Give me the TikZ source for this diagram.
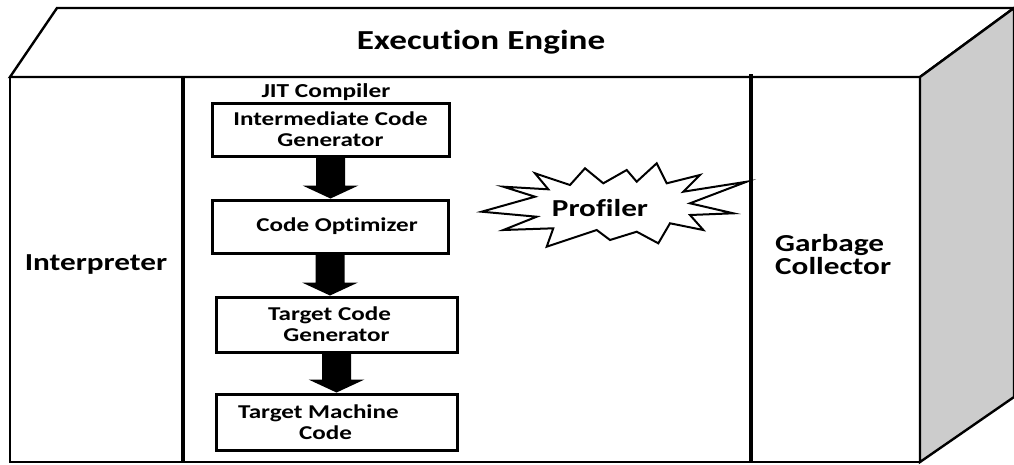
\documentclass[tikz,border=0pt]{standalone}
\usepackage{fontspec}
\setmainfont{Carlito}[FakeStretch=1.28, Ligatures=NoCommon]
\usetikzlibrary{calc}
\definecolor{sideface}{HTML}{CCCCCC}
\tikzset{
  edgeline/.style={line width=2.4pt, line join=miter},
  divider/.style={line width=3.6pt},
  stagebox/.style={draw, line width=3pt, rectangle, inner sep=0pt, align=center,
    font=\fontsize{19.6}{21}\selectfont\bfseries},
  titlelabel/.style={font=\fontsize{27.5}{30}\selectfont\bfseries, inner sep=0pt},
  biglabel/.style={font=\fontsize{24.4}{21}\selectfont\bfseries, inner sep=0pt},
  midlabel/.style={font=\fontsize{19.8}{20}\selectfont\bfseries, inner sep=0pt},
  burst/.style={draw, line width=2pt, fill=white, line join=miter},
}
% thick block arrow from the bottom of one node to the top of the next
\newcommand{\blockarrow}[2]{%
  \fill let \p1=(#1.south), \p2=(#2.north) in
    (\x1-14.5pt,\y1) -- (\x1+14.5pt,\y1) -- (\x1+14.5pt,\y2+13pt) --
    (\x1+28pt,\y2+13pt) -- (\x1,\y2) -- (\x1-28pt,\y2+13pt) --
    (\x1-14.5pt,\y2+13pt) -- cycle;}
\begin{document}
\begin{tikzpicture}[x=1pt, y=-1pt]
  \useasboundingbox (0,0) rectangle (1014,464);
  % box corners
  \coordinate (fl) at (10,77);
  \coordinate (fr) at (920,77);
  \coordinate (bl) at (10,462);
  \coordinate (br) at (920,462);
  \coordinate (tl) at (57,8);
  \coordinate (tr) at (1014,8);
  \coordinate (sr) at (1014,397);
  % top face and shaded side face
  \draw[edgeline, fill=white] (fl) -- (tl) -- (tr) -- (fr) -- cycle;
  \draw[edgeline, fill=sideface] (fr) -- (tr) -- (sr) -- (br) -- cycle;
  % front face
  \draw[edgeline] (fl) rectangle (br);
  % column dividers
  \coordinate (d1t) at (183,77);
  \coordinate (d1b) at (183,462);
  \coordinate (d2t) at (751,74);
  \coordinate (d2b) at (751,462);
  \draw[divider] (d1t) -- (d1b);
  \draw[divider] (d2t) -- (d2b);

  \node[titlelabel, anchor=base] (engine) at (481,49) {Execution Engine};
  \node[biglabel, anchor=base] (interp) at (96,270) {Interpreter};
  \node[biglabel, anchor=base west, align=left] (gc) at (775,274) {Garbage\\Collector};
  \node[midlabel, anchor=base] (jit) at (326,97) {JIT Compiler};

  % compiler stages
  \node[stagebox, minimum width=237pt, minimum height=53pt] (icg) at (330.5,129.5)
    {Intermediate Code\\Generator};
  \node[stagebox, minimum width=236pt, minimum height=53pt] (opt) at (330,226.5)
    {\hspace*{14pt}Code Optimizer};
  \node[stagebox, minimum width=241pt, minimum height=55pt] (tcg) at (336.5,324.5)
    {\hspace*{-14pt}Target Code\\Generator};
  \node[stagebox, minimum width=241pt, minimum height=56pt] (tmc) at (336.5,422)
    {\hspace*{-36pt}Target Machine\\\hspace*{-22pt}Code};

  \blockarrow{icg}{opt}
  \blockarrow{opt}{tcg}
  \blockarrow{tcg}{tmc}

  % profiler starburst
  \draw[burst] (481.7,211.7) -- (535,196.7) -- (503.3,186.7) -- (548.3,189.3) --
    (535,173.3) -- (570,185) -- (585,168.3) -- (603.3,183.3) -- (626.7,170) --
    (636.7,181.7) -- (656.7,163.3) -- (666.7,183.3) -- (700,175) --
    (683.3,191.7) -- (746.7,181.7) -- (690,203.3) -- (733.3,213.3) --
    (690,215) -- (703.3,230) -- (670,223.3) -- (658.3,243.3) -- (636.7,231.7) --
    (610,240) -- (596.7,230) -- (546.7,246.7) -- (553.3,228.3) -- (503.3,230) --
    (536.7,216.7) -- cycle;
  \node[biglabel, anchor=base] (prof) at (600,216) {Profiler};
\end{tikzpicture}
\end{document}
